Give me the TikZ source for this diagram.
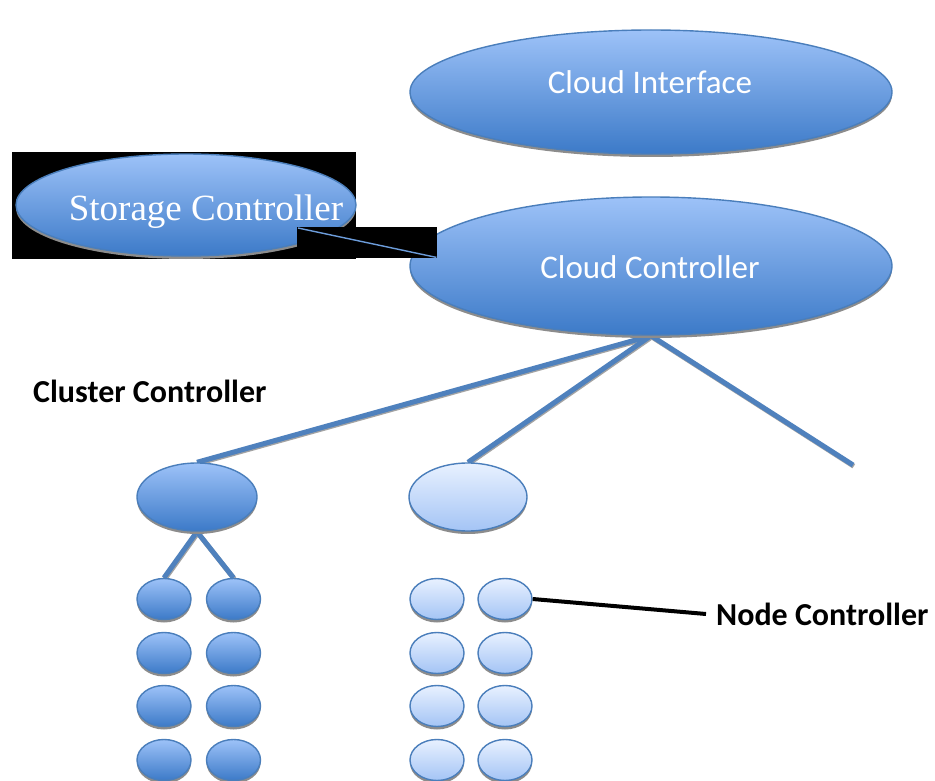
\documentclass[tikz,border=0pt]{standalone}
\usepackage{fontspec}
\setmainfont{Carlito}
\newfontfamily\serifface{Liberation Serif}
\usetikzlibrary{shapes.geometric,shadows,backgrounds}

\definecolor{rimblue}{HTML}{4A7EBB}
\definecolor{darktop}{HTML}{9DC2F8}
\definecolor{darkbot}{HTML}{3C7AC8}
\definecolor{lighttop}{HTML}{E8F1FF}
\definecolor{lightbot}{HTML}{A4C4F5}
\definecolor{linkblue}{HTML}{4F81BD}
\definecolor{thinblue}{HTML}{6C9CDA}
\definecolor{shade}{HTML}{8C8C8C}

\tikzset{
  blob/.style={ellipse, draw=rimblue, line width=1.4pt, inner sep=0pt,
    drop shadow={shadow xshift=0pt, shadow yshift=-3pt, fill=shade, opacity=1}},
  darkblob/.style={blob, top color=darktop, bottom color=darkbot},
  lightblob/.style={blob, top color=lighttop, bottom color=lightbot},
  bigblob/.style={darkblob, minimum width=482pt, minimum height=126pt},
  clusterdark/.style={darkblob, minimum width=120pt, minimum height=68pt},
  clusterlight/.style={lightblob, minimum width=118pt, minimum height=68pt},
  nodedark/.style={darkblob, minimum width=54pt, minimum height=41pt},
  nodelight/.style={lightblob, minimum width=54pt, minimum height=41pt},
  whitetext/.style={text=white, inner sep=0pt, font=\fontsize{33}{40}\selectfont},
  blacklabel/.style={text=black, inner sep=0pt, font=\bfseries\fontsize{32}{38}\selectfont},
  trunk/.style={linkblue, line width=5pt},
  trunkshadow/.style={shade!80, line width=5pt},
  blackbox/.style={fill=black, inner sep=0pt, anchor=north west},
}

\begin{document}
\begin{tikzpicture}[x=1pt, y=-1pt]
  \begin{scope}[on background layer]
    \fill[white] (0,0) rectangle (935,781);
  \end{scope}
  \useasboundingbox (0,0) rectangle (935,781);

  % storage controller on its black panel
  \node[blackbox, minimum width=344pt, minimum height=107pt] (sbox) at (12,152) {};
  \node[darkblob, minimum width=340pt, minimum height=102pt] (sc) at (186,205) {};
  \node[text=white, inner sep=0pt, font=\serifface\fontsize{37}{44}\selectfont]
    (sctext) at (206,212) {Storage Controller};

  % cloud level
  \node[bigblob, minimum height=124pt] (ci) at (651,92) {};
  \node[whitetext] (citext) at (650,82) {Cloud Interface};
  \node[bigblob, minimum height=138pt] (cc) at (651,266) {};
  \node[whitetext] (cctext) at (650,267) {Cloud Controller};

  % storage link
  \node[blackbox, minimum width=140pt, minimum height=31pt] (linkbox) at (297,227) {};
  \draw[thinblue, line width=1.4pt] ([shift={(1,1)}]linkbox.north west) -- ([shift={(-1,-1)}]linkbox.south east);

  % cluster level
  \node[clusterdark] (lc) at (197,497) {};
  \node[clusterlight] (mc) at (468,497) {};
  \coordinate (rc) at (853,465);

  % node controllers
  \foreach \r/\y in {1/599, 2/653, 3/706, 4/760} {
    \node[nodedark] (a\r1) at (164,\y) {};
    \node[nodedark] (a\r2) at (233.5,\y) {};
    \node[nodelight] (b\r1) at (437,\y) {};
    \node[nodelight] (b\r2) at (505,\y) {};
  }

  % connectors, kept behind the ellipses
  \begin{scope}[on background layer]
    \foreach \t in {lc, mc} {
      \draw[trunkshadow] ([shift={(0.8,1.2)}]cc.south) -- ([shift={(0.8,1.2)}]\t.north);
      \draw[trunk] (cc.south) -- (\t.north);
    }
    \draw[trunkshadow] ([shift={(0.8,1.2)}]cc.south) -- ([shift={(0.8,1.2)}]rc);
    \draw[trunk] (cc.south) -- (rc);
    \foreach \t in {a11, a12} {
      \draw[trunkshadow] ([shift={(0.8,1.2)}]lc.south) -- ([shift={(0.8,1.2)}]\t.north);
      \draw[trunk] (lc.south) -- (\t.north);
    }
  \end{scope}

  % labels
  \node[blacklabel, anchor=west] (cllabel) at (33,391) {Cluster Controller};
  \node[blacklabel, anchor=west] (nclabel) at (716,614) {Node Controller};
  \draw[black, line width=4pt] (b12.east) -- ([xshift=-10pt]nclabel.west);
\end{tikzpicture}
\end{document}
